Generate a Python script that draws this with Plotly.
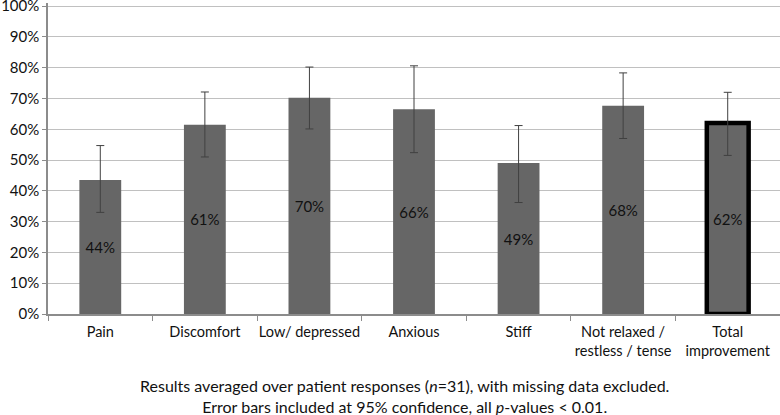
import plotly.graph_objects as go

categories = ["Pain", "Discomfort", "Low/ depressed", "Anxious", "Stiff",
              "Not relaxed /<br>restless / tense", "Total<br>improvement"]
values = [43.5, 61.5, 70.2, 66.5, 49.0, 67.6, 62.0]
labels = ["44%", "61%", "70%", "66%", "49%", "68%", "62%"]
err_plus = [11.2, 10.6, 10.0, 14.1, 12.2, 10.7, 10.0]
err_minus = [10.5, 10.5, 10.1, 14.1, 12.8, 10.6, 10.5]

FONT = "Lato, Liberation Sans, sans-serif"

line_widths = [0, 0, 0, 0, 0, 0, 4.5]

fig = go.Figure()
fig.add_trace(go.Bar(
    x=categories, y=values, text=labels,
    textposition="inside", insidetextanchor="middle",
    textfont=dict(family=FONT, size=15, color="#111111"),
    textangle=0,
    marker=dict(color="#666666", line=dict(color="#000000", width=line_widths)),
    width=0.4,
    error_y=dict(type="data", symmetric=False, array=err_plus, arrayminus=err_minus,
                 color="#404040", thickness=1, width=4),
    cliponaxis=False,
))

fig.update_layout(
    width=780, height=415,
    margin=dict(l=48, r=0, t=3, b=101),
    paper_bgcolor="white", plot_bgcolor="white",
    showlegend=False,
    font=dict(family=FONT, size=14, color="#111111"),
    uniformtext=dict(minsize=8, mode="show"),
)
fig.update_yaxes(
    range=[0, 101], tickmode="linear", tick0=0, dtick=10, ticksuffix="%",
    showgrid=True, gridcolor="#c0c0c0", gridwidth=1,
    showline=True, linecolor="#8c8c8c", linewidth=1.5,
    ticks="outside", ticklen=4, tickcolor="#8c8c8c",
    tickfont=dict(family=FONT, size=15, color="#111111"),
    ticklabeloverflow="allow",
    zeroline=False, fixedrange=True, automargin=False,
)
fig.update_xaxes(
    showline=True, linecolor="#8c8c8c", linewidth=1.5,
    ticks="outside", ticklen=5, tickcolor="#8c8c8c", tickson="boundaries",
    tickfont=dict(family=FONT, size=14.5, color="#111111"), tickangle=0,
    ticklabelstandoff=4,
    fixedrange=True, automargin=False,
)
fig.add_annotation(
    xref="paper", yref="paper", x=(404 - 48) / 732, y=-0.193,
    xanchor="center", yanchor="top", showarrow=False, align="center",
    text="Results averaged over patient responses (<i>n</i>=31), with missing data excluded.<br>"
         "Error bars included at 95% confidence, all <i>p</i>-values &lt; 0.01.",
    font=dict(family=FONT, size=16, color="#111111"),
)
fig.write_html("out.html", config={"displayModeBar": False},
               post_script="document.body.style.margin='0px';")
